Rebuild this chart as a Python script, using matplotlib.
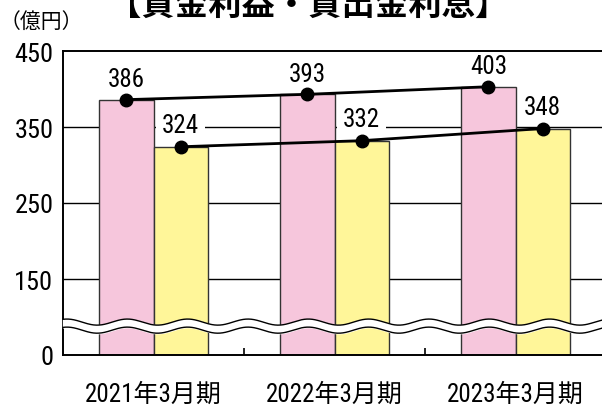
import numpy as np
import matplotlib
matplotlib.use('Agg')
import matplotlib.pyplot as plt

#############################################################
# Data
#############################################################
categories = ['2021年3月期', '2022年3月期', '2023年3月期']
kashikin_rieki = [386, 393, 403]     # pink bars
kashidashi_risoku = [324, 332, 348]  # yellow bars
ytick_values = [0, 150, 250, 350, 450]
title = '【貸金利益・貸出金利息】'
unit = '（億円）'

#############################################################
# Fonts
#############################################################
fam = ['Roboto Condensed', 'Noto Sans CJK JP', 'DejaVu Sans']
cjk = ['Noto Sans CJK JP', 'DejaVu Sans']


# broken axis: values >= 150 are shifted down by 50
def brk(v):
    v = np.asarray(v, dtype=float)
    return np.where(v >= 150, v - 50, v)


#############################################################
# Plot
#############################################################
W, H = 602, 406
fig = plt.figure(figsize=(W/100, H/100), dpi=100)
ax = fig.add_axes([63/W, 50/H, 543/W, 304/H])
ax.set_xlim(-0.5, 2.5)
ax.set_ylim(0, 400)

x = np.arange(len(categories))
bw = 0.3
pink = '#F6C6DC'
yellow = '#FFF699'

for yv in [150, 250, 350]:
    ax.axhline(brk(yv), color='black', lw=1.0, zorder=1)

ax.bar(x - bw/2, brk(kashikin_rieki), bw, color=pink, edgecolor='#333333', lw=1.0, zorder=2)
ax.bar(x + bw/2, brk(kashidashi_risoku), bw, color=yellow, edgecolor='#333333', lw=1.0, zorder=2)

ax.plot(x - bw/2, brk(kashikin_rieki), color='black', lw=2.0, marker='o', ms=9, zorder=6)
ax.plot(x + bw/2, brk(kashidashi_risoku), color='black', lw=2.0, marker='o', ms=9, zorder=6)

for xi, v in zip(x - bw/2, kashikin_rieki):
    ax.annotate(str(v), (xi, brk(v)), xytext=(0, 6), textcoords='offset points',
                ha='center', va='bottom', fontsize=18, family=fam, zorder=5)
for xi, v in zip(x + bw/2, kashidashi_risoku):
    ax.annotate(str(v), (xi, brk(v)), xytext=(0, 7), textcoords='offset points',
                ha='center', va='bottom', fontsize=18, family=fam, zorder=5,
                bbox=dict(boxstyle='square,pad=0.25', fc='white', ec='none'))

# wavy break
xw = np.linspace(-0.5, 2.5, 800)
yc = 38 + 4*np.cos(2*np.pi*3*(xw + 0.478))
ax.fill_between(xw, yc - 5.3, yc + 5.3, color='white', zorder=3, clip_on=False)
ax.plot(xw, yc + 5.3, color='black', lw=1.0, zorder=3, clip_on=False)
ax.plot(xw, yc - 5.3, color='black', lw=1.0, zorder=3, clip_on=False)

ax.set_yticks(brk(ytick_values))
ax.set_yticklabels([str(v) for v in ytick_values], family=fam, fontsize=19)
ax.tick_params(axis='y', length=0, pad=7)
ax.set_xticks(x)
ax.set_xticklabels(categories, family=fam, fontsize=18)
ax.tick_params(axis='x', length=0, pad=19)
ax.set_xticks([0.5, 1.5], minor=True)
ax.tick_params(axis='x', which='minor', direction='in', length=5, width=1.2)

ax.spines['right'].set_visible(False)
for s in ['left', 'bottom', 'top']:
    ax.spines[s].set_linewidth(1.4)

fig.text(308/W, 1 - 5/H, title, ha='center', va='center', fontsize=24, fontweight='bold', family=cjk)
fig.text(0.0, 1 - 22/H, unit, ha='left', va='center', fontsize=15, family=cjk)

fig.savefig('out.png', dpi=100)
plt.close(fig)
